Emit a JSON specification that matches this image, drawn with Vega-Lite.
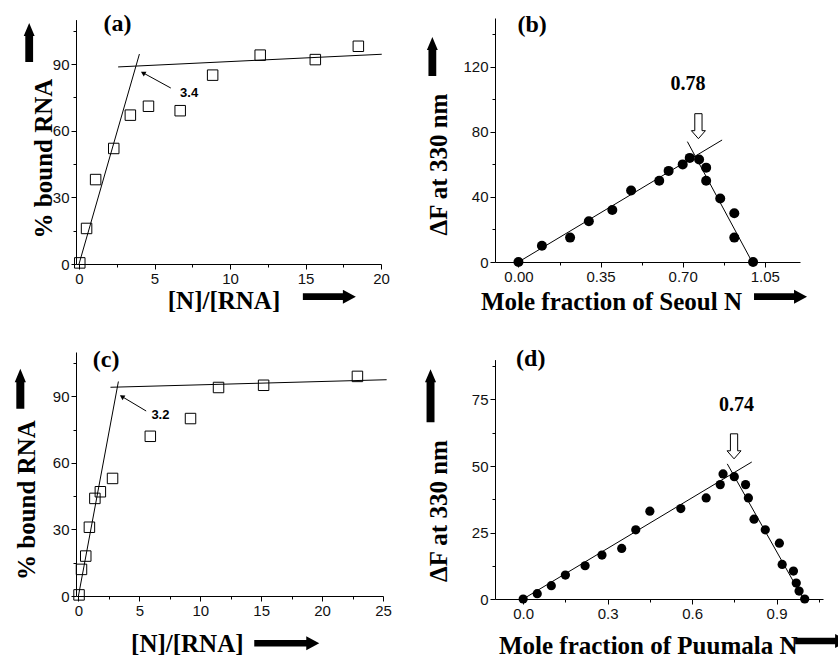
{
  "$schema": "https://vega.github.io/schema/vega-lite/v6.json",
  "background": "white",
  "autosize": {"type": "pad"},
  "padding": {"left": 14, "top": 12, "right": 0, "bottom": 0},
  "config": {
    "view": {"stroke": null},
    "axis": {
      "grid": false, "domainColor": "black", "domainWidth": 1, "tickColor": "black", "tickWidth": 1,
      "labelColor": "#111111", "labelFont": "Liberation Sans", "labelFontSize": 15, "labelPadding": 2,
      "labelOverlap": false, "labelFlush": false,
      "titleFont": "Liberation Serif", "titleFontSize": 25, "titleFontWeight": "bold", "titleColor": "black",
      "titleBaseline": "alphabetic", "titleAlign": "center"
    }
  },
  "bounds": "flush",
  "columns": 2,
  "spacing": {"row": 88, "column": 112},
  "concat": [
    {
      "width": 305, "height": 246,
      "encoding": {
        "x": {"field": "x", "type": "quantitative", "scale": {"domain": [-0.2, 20], "nice": false, "zero": false},
          "axis": {"title": "[N]/[RNA]", "values": [0, 2.5, 5, 7.5, 10, 12.5, 15, 17.5, 20],
            "labelExpr": "datum.value % 5 === 0 ? datum.label : ''",
            "tickSize": {"condition": {"test": "datum.value % 5 !== 0", "value": 3}, "value": 5},
            "titleX": 147.5, "titleY": 44.6}},
        "y": {"field": "y", "type": "quantitative", "scale": {"domain": [0, 110], "range": [246, 1.6], "nice": false, "zero": false},
          "axis": {"title": "% bound RNA", "values": [0, 15, 30, 45, 60, 75, 90, 105],
            "labelExpr": "datum.value % 30 === 0 ? datum.label : ''",
            "tickSize": {"condition": {"test": "datum.value % 30 !== 0", "value": 3}, "value": 5},
            "titleX": -25, "titleY": 140}}
      },
      "layer": [
        {
          "data": {"values": [
            {"x": 0.05, "y": 0.5}, {"x": 0.5, "y": 16}, {"x": 1.1, "y": 38}, {"x": 2.3, "y": 52},
            {"x": 3.4, "y": 67}, {"x": 4.6, "y": 71}, {"x": 6.7, "y": 69}, {"x": 8.85, "y": 85},
            {"x": 12.0, "y": 94}, {"x": 15.65, "y": 92}, {"x": 18.5, "y": 98}
          ]},
          "mark": {"type": "point", "shape": "square", "filled": false, "stroke": "black", "strokeWidth": 1, "size": 110, "opacity": 1}
        },
        {
          "data": {"values": [
            {"x": 0, "y": 0, "x2": 4.0, "y2": 94.5},
            {"x": 2.59, "y": 88.7, "x2": 20.05, "y2": 94.4},
            {"x": 6.08, "y": 79.2, "x2": 4.2, "y2": 86.2}
          ]},
          "mark": {"type": "rule", "color": "black", "strokeWidth": 1},
          "encoding": {"x2": {"field": "x2"}, "y2": {"field": "y2"}}
        },
        {
          "data": {"values": [{"x": 4.24, "y": 86.0}]},
          "mark": {"type": "point", "shape": "triangle-up", "filled": true, "color": "black", "size": 30, "angle": 298.6, "opacity": 1}
        },
        {
          "data": {"values": [{"x": 7.29, "y": 77, "t": "3.4"}]},
          "mark": {"type": "text", "font": "Liberation Sans", "fontWeight": "bold", "fontSize": 13, "color": "black"},
          "encoding": {"text": {"field": "t"}}
        },
        {
          "data": {"values": [{"x": 2.55, "y": 108, "t": "(a)"}]},
          "mark": {"type": "text", "font": "Liberation Serif", "fontWeight": "bold", "fontSize": 24, "color": "black"},
          "encoding": {"text": {"field": "t"}}
        },
        {
          "data": {"values": [{"x": -3.3, "y": 99.7}]},
          "mark": {"type": "point", "shape": "M0,-1L0.28,-0.33L0.2,-0.33L0.2,1L-0.2,1L-0.2,-0.33L-0.28,-0.33Z", "size": 1521, "filled": true, "color": "black", "opacity": 1}
        },
        {
          "data": {"values": [{"x": 16.58, "y": -14.7}]},
          "mark": {"type": "point", "shape": "M-1,-0.126L0.51,-0.126L0.51,-0.264L1,0L0.51,0.264L0.51,0.126L-1,0.126Z", "size": 2809, "filled": true, "color": "black", "opacity": 1}
        }
      ]
    },
    {
      "width": 305, "height": 244,
      "encoding": {
        "x": {"field": "x", "type": "quantitative", "scale": {"domain": [-0.1, 1.2], "nice": false, "zero": false},
          "axis": {"title": "Mole fraction of Seoul N", "values": [0, 0.175, 0.35, 0.525, 0.7, 0.875, 1.05], "format": ".2f",
            "labelExpr": "abs(datum.value/0.35 - round(datum.value/0.35)) < 0.01 ? datum.label : ''",
            "tickSize": {"condition": {"test": "abs(datum.value/0.35 - round(datum.value/0.35)) >= 0.01", "value": 3}, "value": 5},
            "titleX": 116, "titleY": 47}},
        "y": {"field": "y", "type": "quantitative", "scale": {"domain": [0, 150], "nice": false, "zero": false},
          "axis": {"title": "ΔF at 330 nm", "values": [0, 20, 40, 60, 80, 100, 120, 140],
            "labelExpr": "datum.value % 40 === 0 ? datum.label : ''",
            "tickSize": {"condition": {"test": "datum.value % 40 !== 0", "value": 3}, "value": 5},
            "titleX": -49, "titleY": 146}}
      },
      "layer": [
        {
          "data": {"values": [
            {"x": 0, "y": 0}, {"x": 0.1, "y": 10}, {"x": 0.22, "y": 15}, {"x": 0.3, "y": 25},
            {"x": 0.4, "y": 32}, {"x": 0.48, "y": 44}, {"x": 0.6, "y": 50}, {"x": 0.64, "y": 56},
            {"x": 0.7, "y": 60}, {"x": 0.73, "y": 64}, {"x": 0.77, "y": 63}, {"x": 0.8, "y": 58},
            {"x": 0.8, "y": 50}, {"x": 0.86, "y": 39}, {"x": 0.92, "y": 30}, {"x": 0.92, "y": 15},
            {"x": 1.0, "y": 0}
          ]},
          "mark": {"type": "point", "shape": "circle", "filled": true, "color": "black", "size": 100, "opacity": 1}
        },
        {
          "data": {"values": [
            {"x": 0, "y": 0, "x2": 0.868, "y2": 75},
            {"x": 0.72, "y": 74, "x2": 0.996, "y2": 0}
          ]},
          "mark": {"type": "rule", "color": "black", "strokeWidth": 1},
          "encoding": {"x2": {"field": "x2"}, "y2": {"field": "y2"}}
        },
        {
          "data": {"values": [{"x": 0.723, "y": 109.6, "t": "0.78"}]},
          "mark": {"type": "text", "font": "Liberation Serif", "fontWeight": "bold", "fontSize": 20, "color": "black"},
          "encoding": {"text": {"field": "t"}}
        },
        {
          "data": {"values": [{"x": 0.767, "y": 83.5}]},
          "mark": {"type": "point", "shape": "M-0.29,-1L0.29,-1L0.29,0.36L0.56,0.36L0,1L-0.56,0.36L-0.29,0.36Z", "size": 625, "filled": true, "fill": "white", "stroke": "black", "strokeWidth": 1, "opacity": 1}
        },
        {
          "data": {"values": [{"x": 0.058, "y": 145.9, "t": "(b)"}]},
          "mark": {"type": "text", "font": "Liberation Serif", "fontWeight": "bold", "fontSize": 24, "color": "black"},
          "encoding": {"text": {"field": "t"}}
        },
        {
          "data": {"values": [{"x": -0.367, "y": 126.4}]},
          "mark": {"type": "point", "shape": "M0,-1L0.28,-0.33L0.2,-0.33L0.2,1L-0.2,1L-0.2,-0.33L-0.28,-0.33Z", "size": 1521, "filled": true, "color": "black", "opacity": 1}
        },
        {
          "data": {"values": [{"x": 1.117, "y": -21.3}]},
          "mark": {"type": "point", "shape": "M-1,-0.126L0.51,-0.126L0.51,-0.264L1,0L0.51,0.264L0.51,0.126L-1,0.126Z", "size": 2809, "filled": true, "color": "black", "opacity": 1}
        }
      ]
    },
    {
      "width": 307, "height": 244,
      "encoding": {
        "x": {"field": "x", "type": "quantitative", "scale": {"domain": [-0.2, 25], "nice": false, "zero": false},
          "axis": {"title": "[N]/[RNA]", "values": [0, 2.5, 5, 7.5, 10, 12.5, 15, 17.5, 20, 22.5, 25],
            "labelExpr": "datum.value % 5 === 0 ? datum.label : ''",
            "tickSize": {"condition": {"test": "datum.value % 5 !== 0", "value": 3}, "value": 5},
            "titleX": 110.8, "titleY": 55.7}},
        "y": {"field": "y", "type": "quantitative", "scale": {"domain": [0, 110], "nice": false, "zero": false},
          "axis": {"title": "% bound RNA", "values": [0, 15, 30, 45, 60, 75, 90, 105],
            "labelExpr": "datum.value % 30 === 0 ? datum.label : ''",
            "tickSize": {"condition": {"test": "datum.value % 30 !== 0", "value": 3}, "value": 5},
            "titleX": -41.7, "titleY": 147.6}}
      },
      "layer": [
        {
          "data": {"values": [
            {"x": 0.05, "y": 0.5}, {"x": 0.25, "y": 12}, {"x": 0.6, "y": 18}, {"x": 0.9, "y": 31},
            {"x": 1.35, "y": 44}, {"x": 1.8, "y": 47}, {"x": 2.8, "y": 53}, {"x": 5.9, "y": 72},
            {"x": 9.2, "y": 80}, {"x": 11.5, "y": 94}, {"x": 15.2, "y": 95}, {"x": 22.9, "y": 99}
          ]},
          "mark": {"type": "point", "shape": "square", "filled": false, "stroke": "black", "strokeWidth": 1, "size": 110, "opacity": 1}
        },
        {
          "data": {"values": [
            {"x": 0, "y": 0, "x2": 3.28, "y2": 96.7},
            {"x": 2.63, "y": 94.1, "x2": 25.3, "y2": 97.5},
            {"x": 5.56, "y": 83.4, "x2": 3.52, "y2": 90.1}
          ]},
          "mark": {"type": "rule", "color": "black", "strokeWidth": 1},
          "encoding": {"x2": {"field": "x2"}, "y2": {"field": "y2"}}
        },
        {
          "data": {"values": [{"x": 3.57, "y": 89.9}]},
          "mark": {"type": "point", "shape": "triangle-up", "filled": true, "color": "black", "size": 30, "angle": 300.8, "opacity": 1}
        },
        {
          "data": {"values": [{"x": 6.73, "y": 81.7, "t": "3.2"}]},
          "mark": {"type": "text", "font": "Liberation Sans", "fontWeight": "bold", "fontSize": 13, "color": "black"},
          "encoding": {"text": {"field": "t"}}
        },
        {
          "data": {"values": [{"x": 2.27, "y": 106.6, "t": "(c)"}]},
          "mark": {"type": "text", "font": "Liberation Serif", "fontWeight": "bold", "fontSize": 24, "color": "black"},
          "encoding": {"text": {"field": "t"}}
        },
        {
          "data": {"values": [{"x": -4.77, "y": 93.4}]},
          "mark": {"type": "point", "shape": "M0,-1L0.28,-0.33L0.2,-0.33L0.2,1L-0.2,1L-0.2,-0.33L-0.28,-0.33Z", "size": 1600, "filled": true, "color": "black", "opacity": 1}
        },
        {
          "data": {"values": [{"x": 17.1, "y": -21.3}]},
          "mark": {"type": "point", "shape": "M-1,-0.103L0.6,-0.103L0.6,-0.215L1,0L0.6,0.215L0.6,0.103L-1,0.103Z", "size": 4225, "filled": true, "color": "black", "opacity": 1}
        }
      ]
    },
    {
      "width": 328, "height": 247,
      "encoding": {
        "x": {"field": "x", "type": "quantitative", "scale": {"domain": [-0.1, 1.065], "nice": false, "zero": false},
          "axis": {"title": "Mole fraction of Puumala N", "values": [0, 0.15, 0.3, 0.45, 0.6, 0.75, 0.9, 1.05], "format": ".1f",
            "labelExpr": "abs(datum.value/0.3 - round(datum.value/0.3)) < 0.01 ? datum.label : ''",
            "tickSize": {"condition": {"test": "abs(datum.value/0.3 - round(datum.value/0.3)) >= 0.01", "value": 3}, "value": 5},
            "titleX": 152.7, "titleY": 54}},
        "y": {"field": "y", "type": "quantitative", "scale": {"domain": [0, 90], "range": [247, 7.6], "nice": false, "zero": false},
          "axis": {"title": "ΔF at 330 nm", "values": [0, 12.5, 25, 37.5, 50, 62.5, 75, 87.5],
            "labelExpr": "datum.value % 25 === 0 ? datum.label : ''",
            "tickSize": {"condition": {"test": "datum.value % 25 !== 0", "value": 3}, "value": 5},
            "titleX": -49, "titleY": 158.5}}
      },
      "layer": [
        {
          "data": {"values": [
            {"x": 0, "y": 0}, {"x": 0.05, "y": 2}, {"x": 0.1, "y": 5}, {"x": 0.15, "y": 9},
            {"x": 0.22, "y": 12.5}, {"x": 0.28, "y": 16.5}, {"x": 0.35, "y": 19}, {"x": 0.4, "y": 26},
            {"x": 0.45, "y": 33}, {"x": 0.56, "y": 34}, {"x": 0.65, "y": 38}, {"x": 0.7, "y": 43},
            {"x": 0.71, "y": 47}, {"x": 0.75, "y": 46}, {"x": 0.79, "y": 43}, {"x": 0.8, "y": 38},
            {"x": 0.82, "y": 30}, {"x": 0.86, "y": 26}, {"x": 0.91, "y": 21}, {"x": 0.92, "y": 13},
            {"x": 0.96, "y": 10.5}, {"x": 0.97, "y": 6}, {"x": 0.98, "y": 3}, {"x": 1.0, "y": 0}
          ]},
          "mark": {"type": "point", "shape": "circle", "filled": true, "color": "black", "size": 85, "opacity": 1}
        },
        {
          "data": {"values": [
            {"x": 0, "y": 0, "x2": 0.812, "y2": 51.5},
            {"x": 0.725, "y": 50.8, "x2": 0.995, "y2": 0}
          ]},
          "mark": {"type": "rule", "color": "black", "strokeWidth": 1},
          "encoding": {"x2": {"field": "x2"}, "y2": {"field": "y2"}}
        },
        {
          "data": {"values": [{"x": 0.758, "y": 72.9, "t": "0.74"}]},
          "mark": {"type": "text", "font": "Liberation Serif", "fontWeight": "bold", "fontSize": 20, "color": "black"},
          "encoding": {"text": {"field": "t"}}
        },
        {
          "data": {"values": [{"x": 0.749, "y": 57.4}]},
          "mark": {"type": "point", "shape": "M-0.29,-1L0.29,-1L0.29,0.36L0.56,0.36L0,1L-0.56,0.36L-0.29,0.36Z", "size": 625, "filled": true, "fill": "white", "stroke": "black", "strokeWidth": 1, "opacity": 1}
        },
        {
          "data": {"values": [{"x": 0.027, "y": 90.1, "t": "(d)"}]},
          "mark": {"type": "text", "font": "Liberation Serif", "fontWeight": "bold", "fontSize": 24, "color": "black"},
          "encoding": {"text": {"field": "t"}}
        },
        {
          "data": {"values": [{"x": -0.329, "y": 76.4}]},
          "mark": {"type": "point", "shape": "M0,-1L0.21,-0.51L0.15,-0.51L0.15,1L-0.15,1L-0.15,-0.51L-0.21,-0.51Z", "size": 2809, "filled": true, "color": "black", "opacity": 1}
        },
        {
          "data": {"values": [{"x": 1.06, "y": -15.8}]},
          "mark": {"type": "point", "shape": "M-1,-0.126L0.51,-0.126L0.51,-0.264L1,0L0.51,0.264L0.51,0.126L-1,0.126Z", "size": 2809, "filled": true, "color": "black", "opacity": 1}
        }
      ]
    }
  ]
}
